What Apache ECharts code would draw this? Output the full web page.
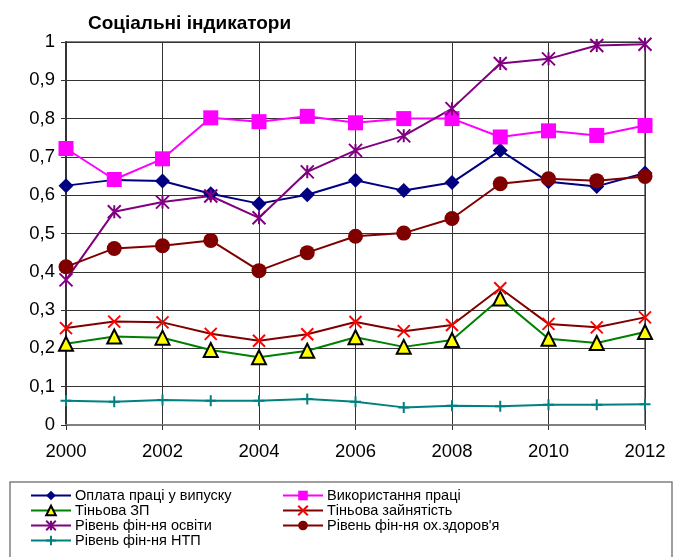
<!DOCTYPE html>
<html>
<head>
<meta charset="utf-8">
<script src="https://cdn.jsdelivr.net/npm/echarts@6/dist/echarts.min.js"></script>
<style>
  html, body { margin: 0; padding: 0; background: #fff; }
  #chart { width: 680px; height: 557px; }
</style>
</head>
<body>
<div id="chart"></div>
<script>
// роки
var years = ['2000','2001','2002','2003','2004','2005','2006','2007','2008','2009','2010','2011','2012']

// показники
var oplata = [0.625, 0.640, 0.637, 0.604, 0.578, 0.601, 0.639, 0.612, 0.633, 0.717, 0.635, 0.623, 0.658]
var vykorystannia = [0.722, 0.641, 0.695, 0.802, 0.792, 0.806, 0.789, 0.800, 0.800, 0.752, 0.768, 0.756, 0.782]
var tinovaZP = [0.212, 0.231, 0.228, 0.196, 0.177, 0.194, 0.229, 0.204, 0.222, 0.330, 0.225, 0.214, 0.243]
var tinovaZain = [0.253, 0.270, 0.268, 0.238, 0.220, 0.237, 0.269, 0.245, 0.261, 0.357, 0.264, 0.255, 0.281]
var osvita = [0.379, 0.557, 0.582, 0.598, 0.541, 0.661, 0.717, 0.755, 0.826, 0.944, 0.956, 0.991, 0.994]
var zdorovia = [0.413, 0.461, 0.468, 0.482, 0.403, 0.450, 0.493, 0.501, 0.539, 0.630, 0.643, 0.638, 0.649]
var ntp = [0.063, 0.061, 0.065, 0.063, 0.063, 0.068, 0.061, 0.046, 0.050, 0.049, 0.053, 0.053, 0.054]

var yTicks = [0, 0.1, 0.2, 0.3, 0.4, 0.5, 0.6, 0.7, 0.8, 0.9, 1]

var names = ['Оплата праці у випуску', 'Використання праці', 'Тіньова ЗП', 'Тіньова зайнятість',
  'Рівень фін-ня освіти', "Рівень фін-ня ох.здоров'я", 'Рівень фін-ня НТП']

var crossPath = 'path://M0,0L10,10M10,0L0,10'
var starPath = 'path://M0,0L10,10M10,0L0,10M5,0L5,10'
var plusPath = 'path://M5,0L5,10M0,5L10,5'

function mkSeries(name, data, lineColor, symbol, size, itemStyle) {
  return {
    name: name,
    type: 'line',
    data: data,
    symbol: symbol,
    symbolSize: size,
    showAllSymbol: true,
    lineStyle: { color: lineColor, width: 2 },
    itemStyle: itemStyle,
    z: 3
  }
}

var chart = echarts.init(document.getElementById('chart'))

var font = '"Liberation Sans", Arial, sans-serif'
var legendText = { fontFamily: font, fontSize: 14.5, color: '#000', lineHeight: 14, padding: [0, 0, 0, -1] }

var option = {
  animation: false,
  title: {
    text: 'Соціальні індикатори',
    left: 83,
    top: 9,
    textStyle: { fontFamily: font, fontWeight: 'bold', fontSize: 19, color: '#000' }
  },
  grid: {
    left: 66, right: 35, top: 42, bottom: 132,
    show: true, borderColor: '#808080', borderWidth: 2
  },
  graphic: [{
    type: 'rect',
    shape: { x: 10, y: 482, width: 662, height: 90 },
    style: { fill: '#fff', stroke: '#808080', lineWidth: 1.5 },
    z: -1
  }],
  legend: [{
    data: [names[0], names[2], names[4], names[6]],
    orient: 'vertical',
    left: 30, top: 488, padding: 0,
    itemWidth: 40, itemHeight: 12, itemGap: 0,
    textStyle: legendText
  }, {
    data: [names[1], names[3], names[5]],
    orient: 'vertical',
    left: 282, top: 488, padding: 0,
    itemWidth: 40, itemHeight: 12, itemGap: 0,
    textStyle: legendText
  }],
  xAxis: {
    type: 'category',
    data: years,
    boundaryGap: false,
    axisLine: { lineStyle: { color: '#808080', width: 2 } },
    axisTick: { show: true, interval: 1, length: 5, lineStyle: { color: '#333' } },
    axisLabel: { interval: 1, margin: 17, fontSize: 18.5, color: '#000', fontFamily: font },
    splitLine: { show: true, interval: 1, lineStyle: { color: '#333', width: 1 } }
  },
  yAxis: {
    type: 'value',
    min: 0, max: 1, interval: 0.1,
    axisLine: { show: true, lineStyle: { color: '#333', width: 2 } },
    axisTick: { show: true, length: 5, lineStyle: { color: '#333' } },
    axisLabel: {
      margin: 11, fontSize: 18.5, color: '#000', fontFamily: font,
      formatter: function (v) {
        var t = yTicks.find(function (x) { return Math.abs(x - v) < 1e-6 })
        return String(t !== undefined ? t : v).replace('.', ',')
      }
    },
    splitLine: { show: true, lineStyle: { color: '#333', width: 1 } }
  },
  series: [
    mkSeries(names[0], oplata, '#000080', 'diamond', 15, { color: '#000080' }),
    mkSeries(names[1], vykorystannia, '#FF00FF', 'rect', 15, { color: '#FF00FF' }),
    mkSeries(names[2], tinovaZP, '#008000', 'triangle', 14, { color: '#FFFF00', borderColor: '#000', borderWidth: 2 }),
    mkSeries(names[3], tinovaZain, '#800000', crossPath, 12, { color: 'transparent', borderColor: '#FF0000', borderWidth: 2 }),
    mkSeries(names[4], osvita, '#800080', starPath, 13, { color: 'transparent', borderColor: '#800080', borderWidth: 2 }),
    mkSeries(names[5], zdorovia, '#800000', 'circle', 15, { color: '#800000' }),
    mkSeries(names[6], ntp, '#008080', plusPath, 11, { color: 'transparent', borderColor: '#008080', borderWidth: 2 })
  ]
}

chart.setOption(option)
</script>
</body>
</html>
